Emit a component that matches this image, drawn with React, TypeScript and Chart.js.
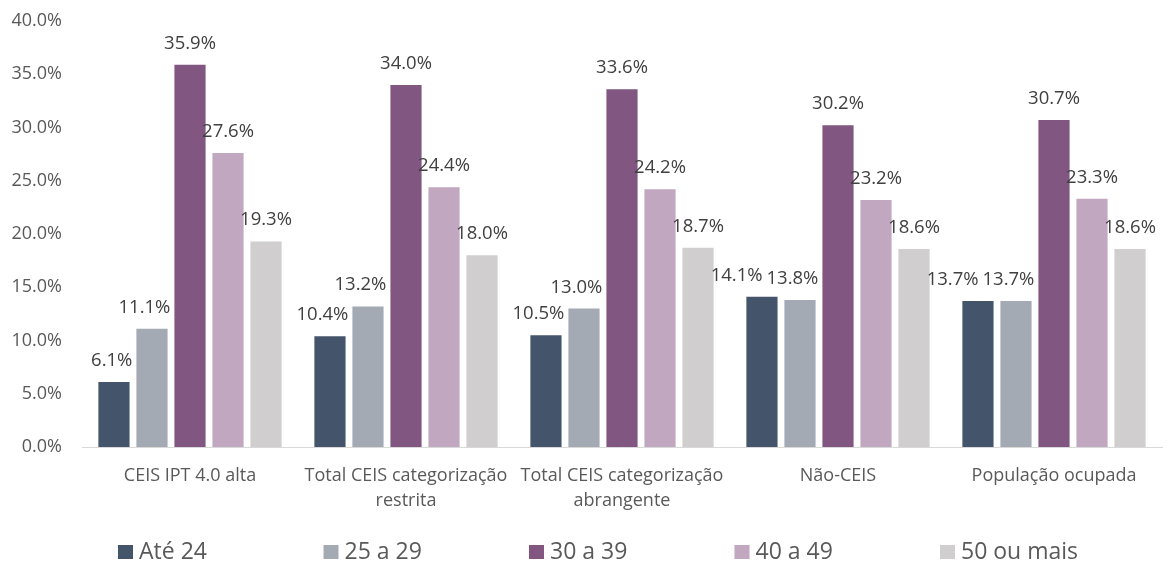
import React, { useEffect, useRef } from "react";
import { Chart, registerables } from "chart.js";

Chart.register(...registerables);

const categories: (string | string[])[] = [
  "CEIS IPT 4.0 alta",
  ["Total CEIS categorização", "restrita"],
  ["Total CEIS categorização", "abrangente"],
  "Não-CEIS",
  "População ocupada",
];

const seriesNames = ["Até 24", "25 a 29", "30 a 39", "40 a 49", "50 ou mais"];
const seriesColors = ["#44546A", "#A4AAB4", "#815680", "#C1A8C0", "#D0CECF"];

const ate24 = [6.1, 10.4, 10.5, 14.1, 13.7];
const a25a29 = [11.1, 13.2, 13.0, 13.8, 13.7];
const a30a39 = [35.9, 34.0, 33.6, 30.2, 30.7];
const a40a49 = [27.6, 24.4, 24.2, 23.2, 23.3];
const a50mais = [19.3, 18.0, 18.7, 18.6, 18.6];

const seriesValues = [ate24, a25a29, a30a39, a40a49, a50mais];

const yTicks = [0, 5, 10, 15, 20, 25, 30, 35, 40];

const FONT = "'Open Sans', 'DejaVu Sans', sans-serif";
const TEXT = "#595959";

const labelPlugin = {
  id: "valueLabels",
  afterDatasetsDraw(chart: any) {
    const ctx = chart.ctx;
    ctx.save();
    ctx.font = `18.5px ${FONT}`;
    ctx.fillStyle = "#404040";
    ctx.textAlign = "center";
    ctx.textBaseline = "alphabetic";
    const n = chart.data.labels.length;
    const dsCount = chart.data.datasets.length;
    const GAP = 4;
    for (let c = 0; c < n; c++) {
      const items: { x: number; y: number; w: number; t: string; bx: number; by: number }[] = [];
      for (let d = 0; d < dsCount; d++) {
        const bar = chart.getDatasetMeta(d).data[c];
        const v = chart.data.datasets[d].data[c];
        const t = v.toFixed(1) + "%";
        const w = ctx.measureText(t).width;
        items.push({ x: bar.x, y: bar.y - 16, w, t, bx: bar.x - bar.width / 2, by: bar.y });
      }
      for (let i = dsCount - 2; i >= 0; i--) {
        const a = items[i];
        const top = a.y - 14;
        const bottom = a.y + 4;
        const nb = items[i + 1];
        let limit = Infinity;
        if (bottom > nb.by) limit = Math.min(limit, nb.bx);
        const nTop = nb.y - 14;
        const nBottom = nb.y + 4;
        if (bottom > nTop && top < nBottom) limit = Math.min(limit, nb.x - nb.w / 2);
        const right = a.x + a.w / 2;
        if (right > limit - GAP) a.x -= right - (limit - GAP);
      }
      items.forEach((it) => ctx.fillText(it.t, it.x, it.y));
    }
    ctx.restore();
  },
};

const legendPlugin = {
  id: "customLegend",
  afterDraw(chart: any) {
    const ctx = chart.ctx;
    ctx.save();
    ctx.font = `23px ${FONT}`;
    ctx.textBaseline = "middle";
    ctx.textAlign = "left";
    const yc = 552;
    chart.data.datasets.forEach((ds: any, i: number) => {
      const x = 118 + i * 205.5;
      ctx.fillStyle = ds.backgroundColor;
      ctx.fillRect(x, yc - 7, 15, 14);
      ctx.fillStyle = TEXT;
      ctx.fillText(ds.label, x + 21, yc);
    });
    ctx.restore();
  },
};

export default function App() {
  const ref = useRef<HTMLCanvasElement | null>(null);
  useEffect(() => {
    if (!ref.current) return;
    const chart = new Chart(ref.current, {
      type: "bar",
      data: {
        labels: categories,
        datasets: seriesNames.map((name, i) => ({
          label: name,
          data: seriesValues[i],
          backgroundColor: seriesColors[i],
          categoryPercentage: 0.88,
          barPercentage: 0.82,
        })),
      },
      options: {
        animation: false,
        responsive: false,
        maintainAspectRatio: false,
        layout: { padding: { top: 21, right: 8, left: 0, bottom: 0 } },
        plugins: {
          legend: { display: false },
          tooltip: { enabled: false },
        },
        scales: {
          x: {
            grid: { display: false, drawTicks: false },
            border: { display: true, color: "#D9D9D9", width: 1 },
            ticks: {
              color: TEXT,
              font: { family: FONT, size: 18, lineHeight: 1.42 },
              padding: 16,
              maxRotation: 0,
              autoSkip: false,
            },
            afterFit: (s: any) => {
              s.height = 115;
            },
          },
          y: {
            min: 0,
            max: 40,
            grid: { display: false, drawTicks: false },
            border: { display: false },
            afterBuildTicks: (s: any) => {
              s.ticks = yTicks.map((v) => ({ value: v }));
            },
            ticks: {
              color: TEXT,
              font: { family: FONT, size: 18 },
              padding: 20,
              callback: (v: any) => Number(v).toFixed(1) + "%",
            },
            afterFit: (s: any) => {
              s.width = 82;
              s.paddingTop = 0;
              s.paddingBottom = 0;
            },
          },
        },
      },
      plugins: [labelPlugin, legendPlugin],
    });
    return () => chart.destroy();
  }, []);
  return (
    <div style={{ position: "absolute", left: 0, top: 0, width: 1170, height: 562, background: "#fff" }}>
      <canvas ref={ref} width={1170} height={562} style={{ width: 1170, height: 562 }} />
    </div>
  );
}
